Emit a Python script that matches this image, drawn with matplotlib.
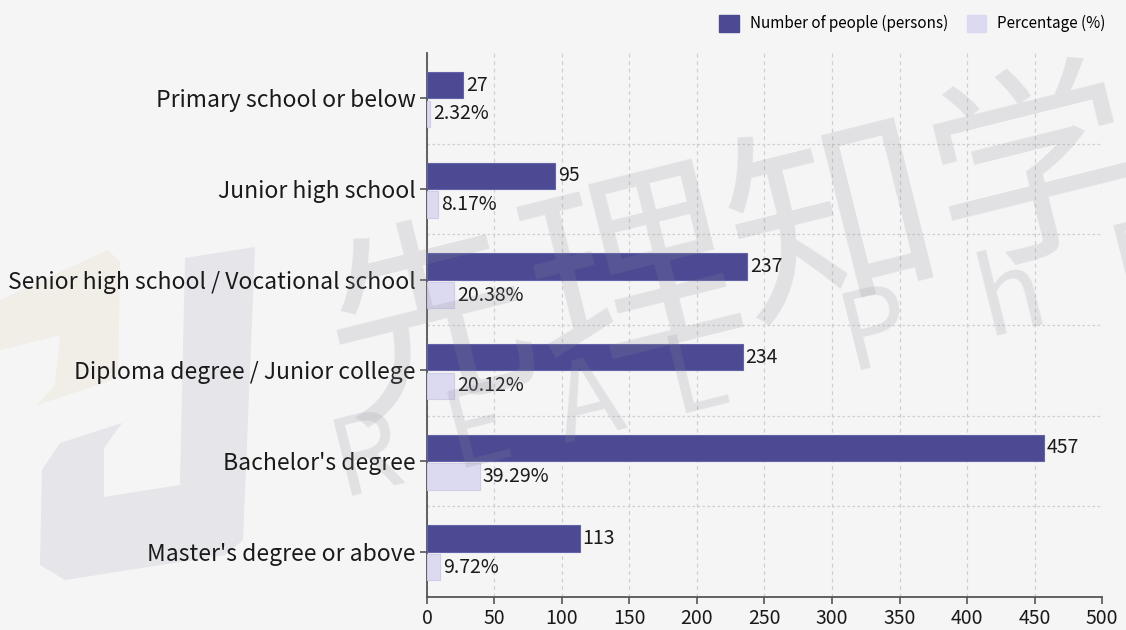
import numpy as np
import matplotlib
matplotlib.use("Agg")
import matplotlib.pyplot as plt
from matplotlib.patches import Patch, Polygon

plt.rcParams['font.family'] = ['Noto Sans CJK SC', 'DejaVu Sans']

# education level breakdown
categories = [
    "Primary school or below",
    "Junior high school",
    "Senior high school / Vocational school",
    "Diploma degree / Junior college",
    "Bachelor's degree",
    "Master's degree or above",
]
people = [27, 95, 237, 234, 457, 113]
percent = [2.32, 8.17, 20.38, 20.12, 39.29, 9.72]
x_ticks = [0, 50, 100, 150, 200, 250, 300, 350, 400, 450, 500]

dark = "#4b4a93"
light = "#dcdaf0"
bg = "#f5f5f5"
W, H = 1126, 630

fig = plt.figure(figsize=(W / 100, H / 100), dpi=100, facecolor=bg)


def px(pts):
    # pixel coords (top-left origin) -> figure fraction
    return [(x / W, 1 - y / H) for x, y in pts]


# logo shapes in the background
logo_gray = [(185, 258), (255, 247), (243, 540), (225, 555), (65, 580), (40, 565),
             (42, 470), (60, 443), (122, 423), (104, 448), (104, 497), (180, 485)]
logo_tan = [(0, 300), (108, 250), (120, 262), (118, 378), (37, 405), (55, 385),
            (60, 335), (0, 350)]
fig.patches.append(Polygon(px(logo_gray), closed=True, transform=fig.transFigure,
                           facecolor="#e5e5ea", edgecolor="none", zorder=-2))
fig.patches.append(Polygon(px(logo_tan), closed=True, transform=fig.transFigure,
                           facecolor="#f1ede7", edgecolor="none", zorder=-2))

ax = fig.add_axes([0.3792, 0.0524, 0.5995, 0.8635])
ax.patch.set_alpha(0)

y = np.arange(len(categories))
h = 0.29
ax.barh(y - 0.145, people, height=h, color=dark, edgecolor="#6463a8",
        linewidth=0.8, zorder=3, label="Number of people (persons)")
ax.barh(y + 0.17, percent, height=h, color=light, edgecolor="#cfcde8",
        linewidth=0.8, zorder=3, label="Percentage (%)")

for yi, v in zip(y, people):
    ax.annotate(f"{v}", (v, yi - 0.145), xytext=(2, 0), textcoords="offset points",
                va="center", ha="left", fontsize=14, color="#1a1a1a", zorder=5)
for yi, v in zip(y, percent):
    ax.annotate(f"{v:.2f}%", (v, yi + 0.17), xytext=(2, 0), textcoords="offset points",
                va="center", ha="left", fontsize=14, color="#1a1a1a", zorder=5)

ax.set_xlim(0, 500)
ax.set_ylim(len(categories) - 0.5, -0.5)
ax.set_xticks(x_ticks)
ax.set_yticks(y)
ax.set_yticklabels(categories)
ax.set_yticks(np.arange(len(categories) - 1) + 0.5, minor=True)
ax.tick_params(axis="x", labelsize=14, colors="#555555", labelcolor="#1a1a1a",
               length=5, width=1.2, pad=3)
ax.tick_params(axis="y", which="major", colors="#555555", labelcolor="#1a1a1a",
               labelsize=16.5, length=5, width=1.2, pad=3)
ax.tick_params(axis="y", which="minor", length=0)

ax.grid(axis="x", which="major", color="#cfcfcf", linestyle=(0, (3, 3)), linewidth=0.9, zorder=0)
ax.grid(axis="y", which="minor", color="#cfcfcf", linestyle=(0, (2, 2)), linewidth=0.9, zorder=0)
for s in ["top", "right"]:
    ax.spines[s].set_visible(False)
for s in ["left", "bottom"]:
    ax.spines[s].set_color("#555555")
    ax.spines[s].set_linewidth(1.3)

# faint brand watermark over the plot
wm = dict(color="#8c8c9c", alpha=0.19, rotation=14, zorder=10,
          transform=fig.transFigure, ha="left", va="baseline")
fig.text(0.27, 0.345, "先理知学", fontsize=150, fontweight="light", **wm)
fig.text(0.285, 0.21, "R  E  A  L     P   h   D", fontsize=78, fontweight="light", **wm)

handles = [Patch(facecolor=dark, edgecolor=dark, label="Number of people (persons)"),
           Patch(facecolor=light, edgecolor=light, label="Percentage (%)")]
fig.legend(handles=handles, loc="upper right", bbox_to_anchor=(0.994, 0.998), ncol=2,
           frameon=False, fontsize=11, handlelength=1.3, handleheight=1.3,
           columnspacing=1.2, handletextpad=0.7)

fig.savefig("out.png", dpi=100, facecolor=bg)
